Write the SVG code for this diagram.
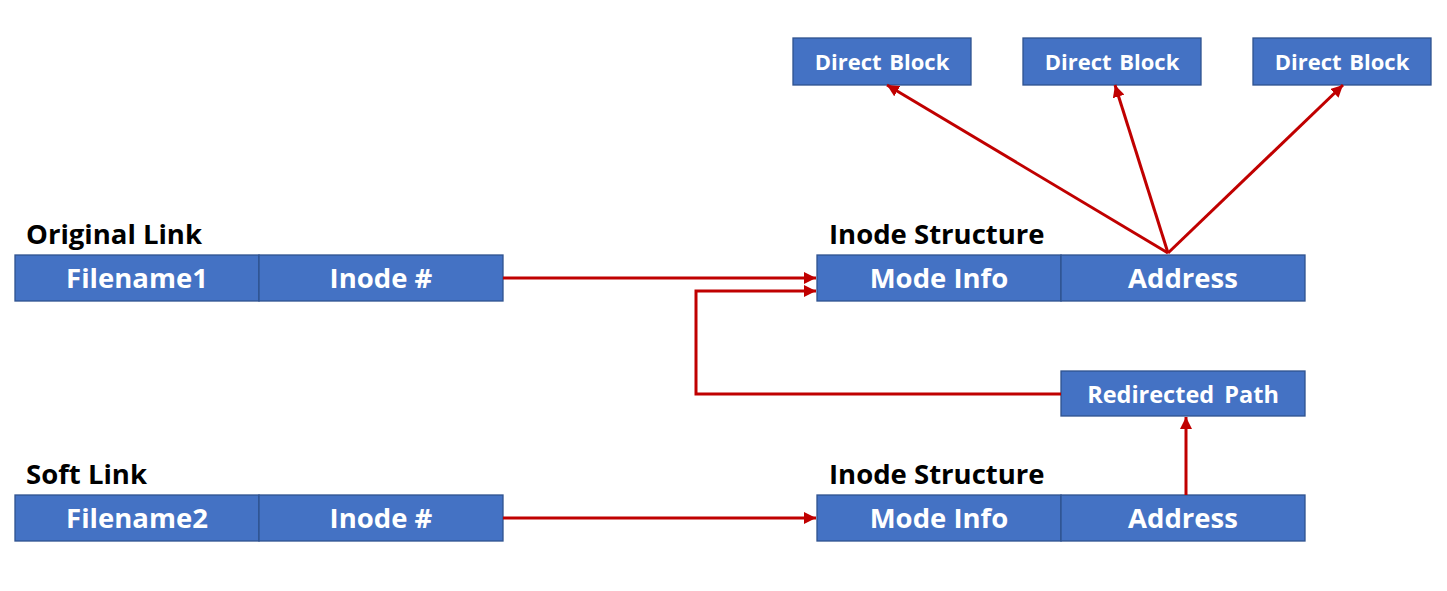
<svg xmlns="http://www.w3.org/2000/svg" width="1447" height="591" viewBox="0 0 1447 591">
<style>
.box{fill:#4472C4;stroke:#2F528F;stroke-width:1.3}
.t{font-family:"Open Sans","Noto Sans","DejaVu Sans",sans-serif;font-weight:bold;fill:#fff;text-anchor:middle}
.big{font-size:27.5px}
.mid{font-size:22px;word-spacing:2px}
.rp{font-size:23.5px;word-spacing:4px}
.lbl{font-family:"Open Sans","Noto Sans","DejaVu Sans",sans-serif;font-weight:bold;font-size:27.5px;fill:#000}
.c{stroke:#C00000;stroke-width:3;fill:none}
</style>
<defs>
<marker id="ah" viewBox="0 0 10 10" refX="10" refY="5" markerWidth="4" markerHeight="4" markerUnits="strokeWidth" orient="auto">
<path d="M0,0 L10,5 L0,10 z" fill="#C00000"/>
</marker>
</defs>
<rect width="1447" height="591" fill="#fff"/>
<g id="db1"><rect class="box" x="793" y="38" width="178" height="47"/><text class="t mid" x="882" y="70">Direct Block</text></g>
<g id="db2"><rect class="box" x="1023" y="38" width="178" height="47"/><text class="t mid" x="1112" y="70">Direct Block</text></g>
<g id="db3"><rect class="box" x="1253" y="38" width="178" height="47"/><text class="t mid" x="1342" y="70">Direct Block</text></g>
<g id="original-link">
<text class="lbl" x="26" y="244">Original Link</text>
<rect class="box" x="15" y="255" width="244" height="46"/><text class="t big" x="137" y="288">Filename1</text>
<rect class="box" x="259" y="255" width="244" height="46"/><text class="t big" x="381" y="288">Inode #</text>
</g>
<g id="inode1">
<text class="lbl" x="829" y="244">Inode Structure</text>
<rect class="box" x="817" y="255" width="244" height="46"/><text class="t big" x="939" y="288">Mode Info</text>
<rect class="box" x="1061" y="255" width="244" height="46"/><text class="t big" x="1183" y="288">Address</text>
</g>
<g id="redirected"><rect class="box" x="1061" y="371" width="244" height="45"/><text class="t rp" x="1183" y="403">Redirected Path</text></g>
<g id="soft-link">
<text class="lbl" x="26" y="484">Soft Link</text>
<rect class="box" x="15" y="495" width="244" height="46"/><text class="t big" x="137" y="528">Filename2</text>
<rect class="box" x="259" y="495" width="244" height="46"/><text class="t big" x="381" y="528">Inode #</text>
</g>
<g id="inode2">
<text class="lbl" x="829" y="484">Inode Structure</text>
<rect class="box" x="817" y="495" width="244" height="46"/><text class="t big" x="939" y="528">Mode Info</text>
<rect class="box" x="1061" y="495" width="244" height="46"/><text class="t big" x="1183" y="528">Address</text>
</g>
<g id="connectors">
<line class="c" x1="503" y1="278" x2="816" y2="278" marker-end="url(#ah)"/>
<polyline class="c" points="1061,394 696,394 696,291 816,291" marker-end="url(#ah)"/>
<line class="c" x1="1168" y1="253" x2="887" y2="85" marker-end="url(#ah)"/>
<line class="c" x1="1168" y1="253" x2="1115" y2="85" marker-end="url(#ah)"/>
<line class="c" x1="1168" y1="253" x2="1343" y2="85" marker-end="url(#ah)"/>
<line class="c" x1="503" y1="518" x2="816" y2="518" marker-end="url(#ah)"/>
<line class="c" x1="1186" y1="495" x2="1186" y2="417" marker-end="url(#ah)"/>
</g>
</svg>
